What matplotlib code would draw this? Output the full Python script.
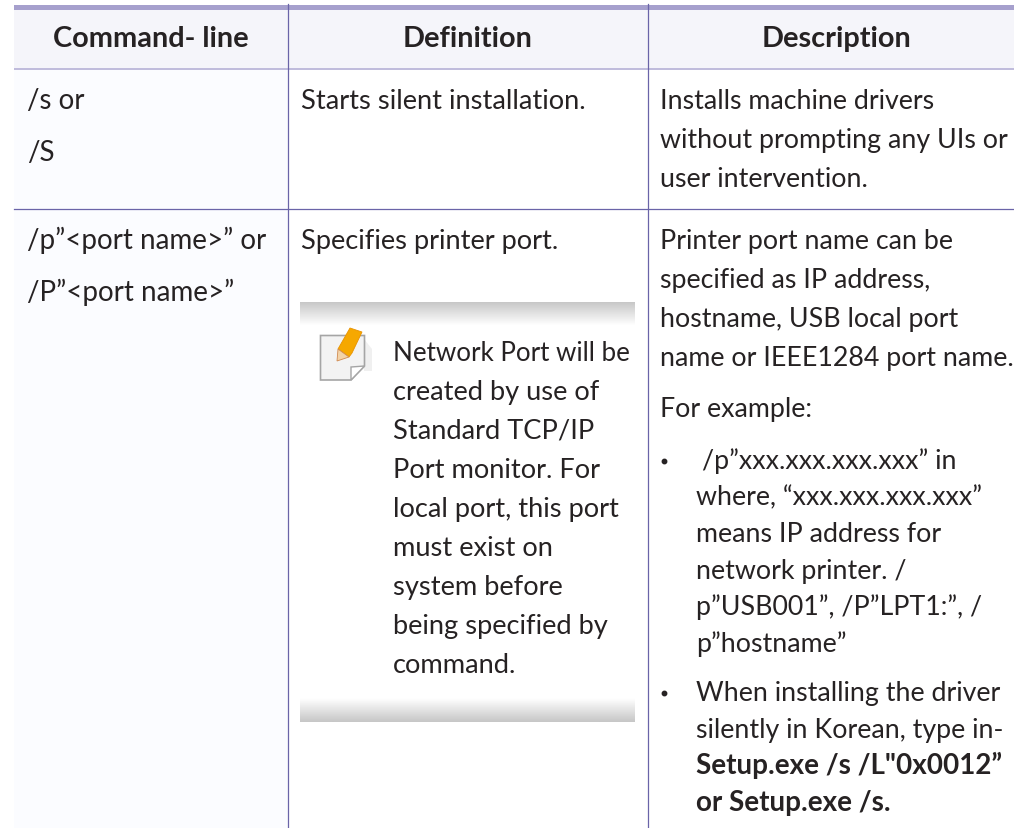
import numpy as np
import matplotlib
matplotlib.use("Agg")
import matplotlib.pyplot as plt
from matplotlib.patches import Rectangle, Polygon

headers = ["Command- line", "Definition", "Description"]
header_centers = [150.5, 467.5, 837]

col1_row1 = ["/s or", "/S"]
col1_row2 = ["/p”<port name>” or", "/P”<port name>”"]
col2_row1 = ["Starts silent installation."]
col2_row2 = ["Specifies printer port."]
note_first = ["Network Port will be"]
note_lines = ["created by use of", "Standard TCP/IP",
              "Port monitor. For", "local port, this port", "must exist on",
              "system before", "being specified by", "command."]
col3_row1 = ["Installs machine drivers", "without prompting any UIs or", "user intervention."]
col3_row2 = ["Printer port name can be", "specified as IP address,",
             "hostname, USB local port", "name or IEEE1284 port name."]
col3_example = ["For example:"]
bullet1_first = ["/p”xxx.xxx.xxx.xxx” in"]
bullet1 = ["where, “xxx.xxx.xxx.xxx”", "means IP address for",
           "network printer. /", "p”USB001”, /P”LPT1:”, /", "p”hostname”"]
bullet2 = ["When installing the driver", "silently in Korean, type in-"]
bullet2_bold = ["Setup.exe /s /L\"0x0012”", "or Setup.exe /s."]

W, H = 1014, 829
FONT = "Lato"
FS = 19.3
TXT = "#262223"

fig = plt.figure(figsize=(W / 100, H / 100), dpi=100)
ax = fig.add_axes([0, 0, 1, 1])
ax.set_xlim(0, W)
ax.set_ylim(H, 0)
ax.axis("off")


def lines(x, y, rows, pitch=39, weight="normal", size=FS):
    for i, row in enumerate(rows):
        ax.text(x, y + i * pitch, row, family=FONT, fontsize=size, color=TXT,
                weight=weight, va="baseline", ha="left")


# backgrounds
ax.add_patch(Rectangle((14, 8), 1000, 62, fc="#f5f5fa", ec="none"))
ax.add_patch(Rectangle((14, 70), 274, 759, fc="#fbfcff", ec="none"))

# rules
ax.add_patch(Rectangle((14, 6), 1000, 5, fc="#a6a0cd", ec="none"))
ax.add_patch(Rectangle((14, 69), 1000, 2, fc="#c0bcdc", ec="none"))
ax.plot([14, 1014], [209.5, 209.5], color="#6a64a8", lw=0.9)
for x in [287.5, 647.5]:
    ax.plot([x, x], [5, 829], color="#6a64a8", lw=0.9)

for c, h in zip(header_centers, headers):
    ax.text(c, 47, h, family=FONT, fontsize=20.8, weight="bold", color=TXT, ha="center", va="baseline")

lines(27, 109, col1_row1, pitch=52, size=20)
lines(27, 249, col1_row2, pitch=52, size=20)
lines(301, 109, col2_row1, size=19.6)
lines(301, 249, col2_row2, size=19.6)
lines(660, 109, col3_row1)
lines(660, 249, col3_row2)
lines(660, 417, col3_example)
lines(702, 469, bullet1_first)
lines(696, 505.6, bullet1, pitch=36.6)
lines(696, 701, bullet2, pitch=36.6)
lines(696, 774, bullet2_bold, pitch=36.6, weight="bold", size=20)
lines(393, 361, note_first, size=18.7)
lines(393, 400, note_lines, size=19.6)

# bullets
ax.plot([663.5, 663.5], [462, 694], ls="none", marker="o", ms=3.2, color=TXT)

# note gradient bands
top = np.linspace(0.78, 1.0, 24).reshape(-1, 1)
ax.imshow(top, extent=[300, 635, 327, 303], cmap="gray", vmin=0, vmax=1, aspect="auto", zorder=1)
bot = np.linspace(1.0, 0.78, 24).reshape(-1, 1)
ax.imshow(bot, extent=[300, 635, 723, 699], cmap="gray", vmin=0, vmax=1, aspect="auto", zorder=1)
ax.set_xlim(0, W)
ax.set_ylim(H, 0)

# note icon
ax.add_patch(Polygon([(364, 340), (372, 350), (372, 372), (364, 372)], fc="#f0f0f0", ec="none"))
ax.add_patch(Polygon([(320.5, 336.5), (364.5, 336.5), (364.5, 367), (351, 381), (320.5, 381)],
                     fc="#f3f3f3", ec="#a5a5a5", lw=1.2))
ax.add_patch(Polygon([(351, 381), (351, 368), (364.5, 367)], fc="#ffffff", ec="#a5a5a5", lw=1))
ax.add_patch(Polygon([(338, 350), (350, 329), (362, 333), (352, 354), (349, 358)], fc="#f6a800", ec="#e89200", lw=0.6))
ax.add_patch(Polygon([(338, 350), (337, 362), (349, 358)], fc="#f3d3a8", ec="#d08a50", lw=0.6))

fig.savefig("out.png", dpi=100)
